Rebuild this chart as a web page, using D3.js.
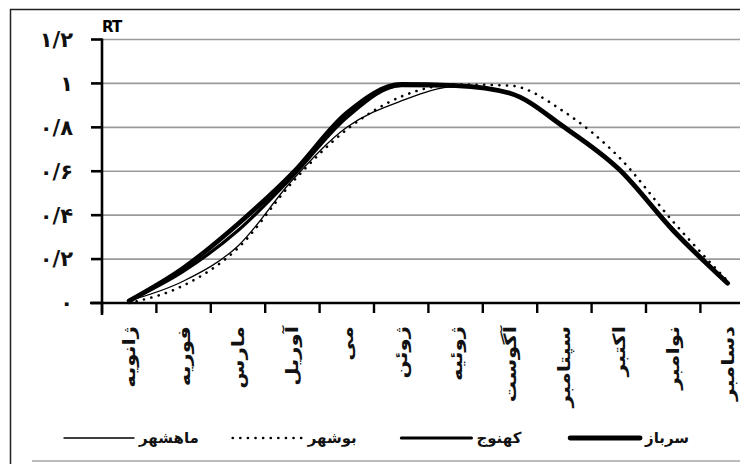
<!DOCTYPE html>
<html>
<head>
<meta charset="utf-8">
<script src="https://cdn.jsdelivr.net/npm/d3@7"></script>
<style>
  body { margin: 0; background: #fff; }
  text { font-family: "DejaVu Sans", sans-serif; }
</style>
</head>
<body>
<div id="viz"></div>
<script>
// month names along the x axis
var months = ['ژانویه', 'فوریه', 'مارس', 'آوریل', 'می', 'ژوئن', 'ژوئیه', 'آگوست', 'سپتامبر', 'اکتبر', 'نوامبر', 'دسامبر'];

// RT values
var sarbaz   = [0.01, 0.16, 0.36, 0.59, 0.865, 0.995, 0.99, 0.955, 0.80, 0.61, 0.33, 0.09];
var kahnuj   = [0.01, 0.145, 0.33, 0.575, 0.845, 0.99, 0.99, 0.955, 0.80, 0.61, 0.335, 0.09];
var mahshahr = [0.01, 0.10, 0.26, 0.56, 0.80, 0.92, 0.985, 0.955, 0.80, 0.61, 0.335, 0.09];
var bushehr  = [0.00, 0.08, 0.25, 0.55, 0.79, 0.94, 0.995, 0.99, 0.87, 0.665, 0.37, 0.10];

// y tick values and their persian labels
var yTicks = [0, 0.2, 0.4, 0.6, 0.8, 1, 1.2];
var yTickLabels = ['۰', '۰/۲', '۰/۴', '۰/۶', '۰/۸', '۱', '۱/۲'];

// series names in the legend (right to left)
var seriesNames = ['سرباز', 'کهنوج', 'بوشهر', 'ماهشهر'];

var series = [
  {name: seriesNames[3], values: mahshahr, width: 1.3, dash: null},
  {name: seriesNames[2], values: bushehr, width: 2.6, dash: '0.1,7.5'},
  {name: seriesNames[1], values: kahnuj, width: 3.2, dash: null},
  {name: seriesNames[0], values: sarbaz, width: 4.8, dash: null}
];

var svg = d3.select('#viz').append('svg')
  .attr('width', 740)
  .attr('height', 464);

// frame round the picture
svg.append('path')
  .attr('d', 'M10.5,464 L10.5,9.5 L740,9.5')
  .attr('fill', 'none')
  .attr('stroke', '#222')
  .attr('stroke-width', 1.5);
svg.append('line')
  .attr('x1', 32).attr('x2', 740)
  .attr('y1', 461).attr('y2', 461)
  .attr('stroke', '#bbb')
  .attr('stroke-width', 2);

// scales
var left = 102;
var x = d3.scaleBand()
  .domain(months)
  .range([left, left + 12 * 54.4]);
var y = d3.scaleLinear()
  .domain([0, 1.2])
  .range([303, 39.5]);

// horizontal grid lines
svg.selectAll('.grid')
  .data(yTicks.slice(1))
  .enter()
  .append('line')
  .attr('class', 'grid')
  .attr('x1', left).attr('x2', 740)
  .attr('y1', function (d) { return y(d); })
  .attr('y2', function (d) { return y(d); })
  .attr('stroke', '#9a9a9a')
  .attr('stroke-width', 1.6);

// y axis with ticks pointing left
svg.append('line')
  .attr('x1', left).attr('x2', left)
  .attr('y1', y(1.2) - 1).attr('y2', y(0) + 12)
  .attr('stroke', '#000')
  .attr('stroke-width', 2.6);
svg.selectAll('.ytick')
  .data(yTicks)
  .enter()
  .append('line')
  .attr('class', 'ytick')
  .attr('x1', 91).attr('x2', left)
  .attr('y1', function (d) { return y(d); })
  .attr('y2', function (d) { return y(d); })
  .attr('stroke', '#000')
  .attr('stroke-width', 2.6);
svg.selectAll('.ylabel')
  .data(yTicks)
  .enter()
  .append('text')
  .attr('class', 'ylabel')
  .attr('x', 73)
  .attr('y', function (d) { return y(d); })
  .attr('dy', '0.35em')
  .attr('text-anchor', 'end')
  .attr('font-size', 21)
  .attr('font-weight', 'bold')
  .attr('fill', '#111')
  .text(function (d, i) { return yTickLabels[i]; });

// axis title
svg.append('text')
  .attr('x', 102)
  .attr('y', 32)
  .attr('font-family', 'Liberation Sans, Arial, sans-serif')
  .attr('font-size', 15)
  .attr('font-weight', 'bold')
  .attr('letter-spacing', -1)
  .text('RT');

// x axis with ticks on the month boundaries
svg.append('line')
  .attr('x1', 90).attr('x2', 740)
  .attr('y1', y(0)).attr('y2', y(0))
  .attr('stroke', '#000')
  .attr('stroke-width', 2.6);
svg.selectAll('.xtick')
  .data(months)
  .enter()
  .append('line')
  .attr('class', 'xtick')
  .attr('x1', function (d) { return x(d); })
  .attr('x2', function (d) { return x(d); })
  .attr('y1', y(0)).attr('y2', y(0) + 10)
  .attr('stroke', '#000')
  .attr('stroke-width', 2.4);

// rotated month labels, stretched a little along their length like the original font
svg.selectAll('.xlabel')
  .data(months)
  .enter()
  .append('text')
  .attr('class', 'xlabel')
  .attr('transform', function (d) {
    return 'translate(' + (x(d) + x.bandwidth() / 2) + ',' + 326 + ') rotate(-90) scale(1.25,1)';
  })
  .attr('dy', '0.35em')
  .attr('text-anchor', 'end')
  .attr('font-size', 17)
  .attr('font-weight', 'bold')
  .attr('fill', '#111')
  .text(function (d) { return d; });

// smoothed lines
var line = d3.line()
  .x(function (d, i) { return x(months[i]) + x.bandwidth() / 2; })
  .y(function (d) { return y(d); })
  .curve(d3.curveMonotoneX);

svg.selectAll('.series')
  .data(series)
  .enter()
  .append('path')
  .attr('class', 'series')
  .attr('d', function (d) { return line(d.values); })
  .attr('fill', 'none')
  .attr('stroke', '#000')
  .attr('stroke-width', function (d) { return d.width; })
  .attr('stroke-dasharray', function (d) { return d.dash; })
  .attr('stroke-linecap', 'round');

// legend, laid out left to right: line then its name
var legend = svg.append('g')
  .attr('transform', 'translate(64,438)');
var legendStep = 168.7;
var legendItem = legend.selectAll('.item')
  .data(series)
  .enter()
  .append('g')
  .attr('class', 'item')
  .attr('transform', function (d, i) { return 'translate(' + (i * legendStep) + ',0)'; });
legendItem.append('line')
  .attr('x1', 0).attr('x2', 70)
  .attr('y1', 0).attr('y2', 0)
  .attr('stroke', '#000')
  .attr('stroke-width', function (d) { return d.width; })
  .attr('stroke-dasharray', function (d) { return d.dash; })
  .attr('stroke-linecap', 'round');
legendItem.append('text')
  .attr('x', 75)
  .attr('y', 0)
  .attr('dy', '0.35em')
  .attr('font-size', 15)
  .attr('font-weight', 'bold')
  .attr('fill', '#111')
  .text(function (d) { return d.name; });
</script>
</body>
</html>
